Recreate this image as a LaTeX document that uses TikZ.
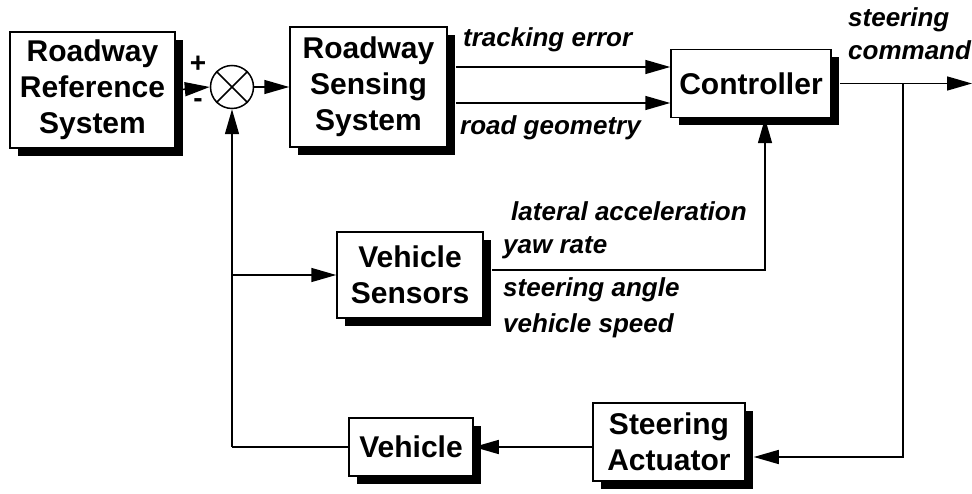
\documentclass[tikz,border=0pt]{standalone}
\usepackage{fontspec}
\setmainfont{Liberation Sans}
\usetikzlibrary{arrows.meta,shadows}
\begin{document}
\begin{tikzpicture}[x=1pt,y=-1pt,
  box/.style={draw=black, line width=1.5pt, fill=white, align=center,
    font=\fontsize{30}{36}\selectfont\bfseries, inner sep=0pt,
    drop shadow={shadow xshift=8pt, shadow yshift=-8pt, fill=black, opacity=1}},
  lbl/.style={font=\fontsize{26}{30}\selectfont\bfseries\itshape, anchor=west, inner sep=0pt},
  sgn/.style={font=\fontsize{28}{28}\selectfont\bfseries, inner sep=0pt},
  arr/.style={line width=1.5pt, -{Triangle[length=25pt,width=14pt]}},
  ln/.style={line width=1.5pt}]
\useasboundingbox (0,0) rectangle (972,494);
% blocks
\node[box, minimum width=165pt, minimum height=116pt] (ref) at (92.5,90) {Roadway\\Reference\\System};
\node[draw, circle, line width=1.5pt, minimum size=43pt, inner sep=0pt] (sum) at (232,87) {};
\draw[ln] (sum.45) -- (sum.225) (sum.135) -- (sum.315);
\node[box, minimum width=157pt, minimum height=120pt] (sens) at (368.5,87) {Roadway\\Sensing\\System};
\node[box, minimum width=160pt, minimum height=68pt] (ctrl) at (751,83.5) {Controller};
\node[box, minimum width=146pt, minimum height=86pt] (vs) at (410,275) {Vehicle\\Sensors};
\node[box, minimum width=124pt, minimum height=58pt] (veh) at (411,447) {Vehicle};
\node[box, minimum width=152pt, minimum height=78pt] (act) at (669,442) {Steering\\Actuator};
% signs
\node[sgn] (plus) at (198,64) {+};
\node[sgn] (minus) at (198,103) {-};
% connectors
\draw[arr] (ref.east) -- (sum.west);
\draw[arr] (sum.east) -- (sens.west);
\coordinate (s1) at ([xshift=8pt]sens.east |- 0,67);
\coordinate (s2) at ([xshift=8pt]sens.east |- 0,103);
\draw[arr] (s1) -- (ctrl.west |- s1);
\draw[arr] (s2) -- (ctrl.west |- s2);
\coordinate (cout) at ([xshift=8pt]ctrl.east);
\coordinate (cend) at (972,83.5);
\draw[arr] (cout) -- (cend);
\coordinate (br) at (903,83.5);
\coordinate (brd) at (903,457);
\draw[arr] (br) -- (brd) -- ([xshift=8pt]act.east |- brd);
\draw[arr] (act.west |- veh.east) -- (veh.east);
\coordinate (fb) at (232,447);
\coordinate (fbv) at (232,275);
\draw[ln] (veh.west) -- (fb);
\draw[arr] (fb) -- (sum.south);
\draw[arr] (fbv) -- (vs.west);
\coordinate (vsr) at (765,270);
\draw[arr] ([xshift=8pt]vs.east |- vsr) -- (vsr) -- (vsr |- ctrl.south);
% labels
\node[lbl] (te) at (463,40) {tracking error};
\node[lbl] (rg) at (460,128) {road geometry};
\node[lbl] (st) at (848,20) {steering};
\node[lbl] (cm) at (848,50) {command};
\node[lbl] (la) at (511,211) {lateral acceleration};
\node[lbl] (yr) at (503,248) {yaw rate};
\node[lbl] (sa) at (503,290) {steering angle};
\node[lbl] (vsp) at (503,326) {vehicle speed};
\end{tikzpicture}
\end{document}
